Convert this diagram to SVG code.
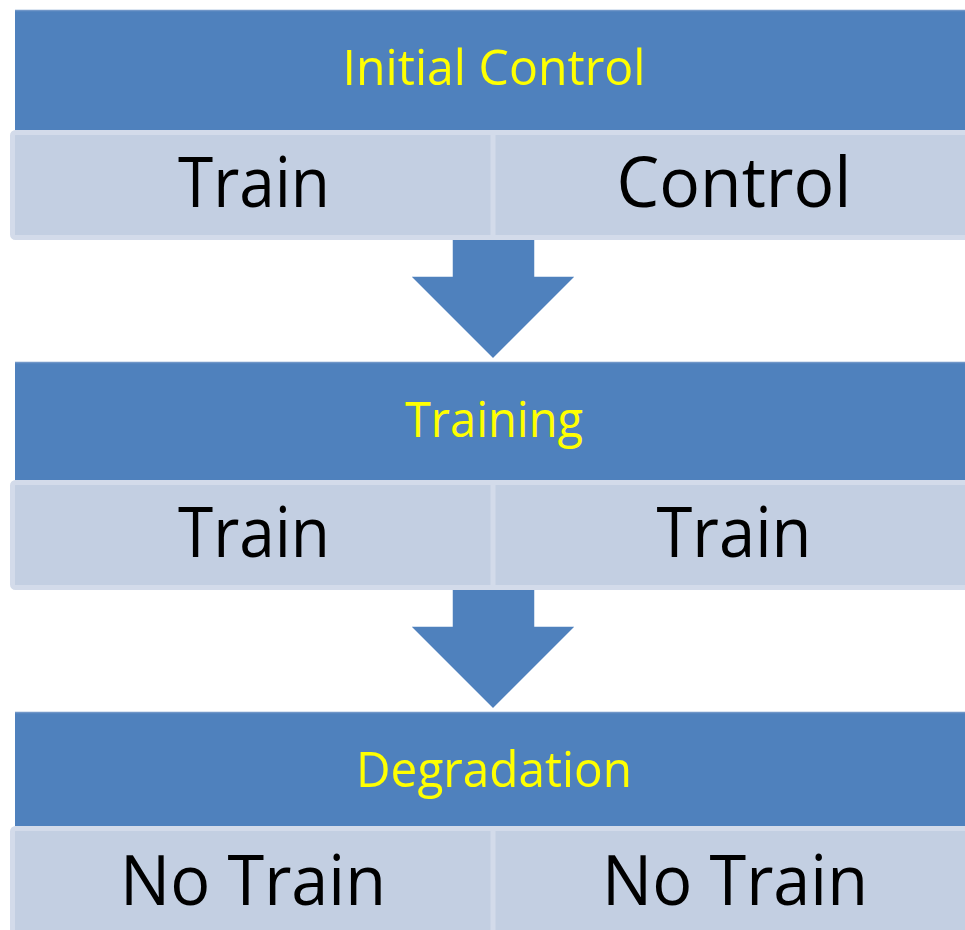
<svg xmlns="http://www.w3.org/2000/svg" width="965" height="930" viewBox="0 0 965 930">
<style>
.hdr{fill:#4F81BD;}
.hdrline{stroke:#7096C8;stroke-width:1.5;}
.cell{fill:#C3CFE2;stroke:#D3DBEA;stroke-width:5;}
.div{stroke:#D3DBEA;stroke-width:5;}
.arrow{fill:#4F81BD;stroke:#FFFFFF;stroke-width:1.5;stroke-linejoin:miter;}
.ht{font-family:"Open Sans","Liberation Sans",sans-serif;font-size:49px;fill:#FFFF00;text-anchor:middle;}
.ct{font-family:"Open Sans","Liberation Sans",sans-serif;font-size:70px;fill:#000000;text-anchor:middle;}
</style>
<rect width="965" height="930" fill="#FFFFFF"/>
<g id="connectors">
<polygon class="arrow" points="452,238 535,238 535,276 576,276 493,359 410,276 452,276"/>
<polygon class="arrow" points="452,588 535,588 535,626 576,626 493,709 410,626 452,626"/>
</g>
<g id="initial-control">
<rect class="hdr" x="15" y="10" width="960" height="120"/>
<line class="hdrline" x1="15" y1="10.5" x2="975" y2="10.5"/>
<text class="ht" x="494" y="85" textLength="303" lengthAdjust="spacingAndGlyphs">Initial Control</text>
</g>
<g id="initial-control-cells">
<rect class="cell" x="12.5" y="132.5" width="965" height="105" rx="3"/>
<line class="div" x1="493" y1="130" x2="493" y2="240"/>
<text class="ct" x="254" y="207" textLength="152" lengthAdjust="spacingAndGlyphs">Train</text>
<text class="ct" x="734" y="207" textLength="235" lengthAdjust="spacingAndGlyphs">Control</text>
</g>
<g id="training">
<rect class="hdr" x="15" y="362" width="960" height="118"/>
<line class="hdrline" x1="15" y1="362.5" x2="975" y2="362.5"/>
<text class="ht" x="494" y="437" textLength="178" lengthAdjust="spacingAndGlyphs">Training</text>
</g>
<g id="training-cells">
<rect class="cell" x="12.5" y="482.5" width="965" height="105" rx="3"/>
<line class="div" x1="493" y1="480" x2="493" y2="590"/>
<text class="ct" x="254" y="557" textLength="152" lengthAdjust="spacingAndGlyphs">Train</text>
<text class="ct" x="734" y="557" textLength="155" lengthAdjust="spacingAndGlyphs">Train</text>
</g>
<g id="degradation">
<rect class="hdr" x="15" y="712" width="960" height="114"/>
<line class="hdrline" x1="15" y1="712.5" x2="975" y2="712.5"/>
<text class="ht" x="494" y="787" textLength="276" lengthAdjust="spacingAndGlyphs">Degradation</text>
</g>
<g id="degradation-cells">
<rect class="cell" x="12.5" y="828.5" width="965" height="110" rx="3"/>
<line class="div" x1="493" y1="826" x2="493" y2="930"/>
<text class="ct" x="253" y="905" textLength="266" lengthAdjust="spacingAndGlyphs">No Train</text>
<text class="ct" x="735" y="905" textLength="266" lengthAdjust="spacingAndGlyphs">No Train</text>
</g>
</svg>
